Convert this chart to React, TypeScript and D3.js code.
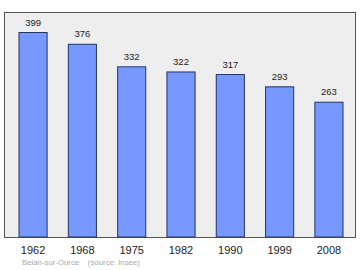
import React from "react";
import * as d3 from "d3";

const years = ["1962", "1968", "1975", "1982", "1990", "1999", "2008"];
const population = [399, 376, 332, 322, 317, 293, 263];
const sourceText = "Belan-sur-Ource    (source: Insee)";

export default function App() {
  const W = 360, H = 270;
  const frame = { x0: 4.5, y0: 12.5, x1: 355.5, y1: 237.5 };
  const x = d3.scaleBand<string>().domain(years).range([8.4, 353.6]).paddingInner(0.43).paddingOuter(0.215);
  const y = d3.scaleLinear().domain([0, 439]).range([237, 12]);
  return (
    <svg width={W} height={H} style={{ position: "absolute", left: 0, top: 0 }} fontFamily="'Liberation Sans', Arial, sans-serif">
      <rect x={0} y={0} width={W} height={H} fill="#ffffff" />
      <rect x={frame.x0} y={frame.y0} width={frame.x1 - frame.x0} height={frame.y1 - frame.y0} fill="#eeeeee" stroke="#555555" strokeWidth={1} />
      {population.map((v, i) => {
        const bx = x(years[i])!;
        return (
          <g key={years[i]}>
            <rect x={bx} y={y(v)} width={x.bandwidth()} height={237 - y(v)} fill="#7799ff" stroke="#223366" strokeWidth={1} />
            <text x={bx + x.bandwidth() / 2} y={y(v) - 7} textAnchor="middle" fontSize={9.5} fill="#222">{v}</text>
          </g>
        );
      })}
      {years.map((yr) => (
        <text key={yr} x={x(yr)! + x.bandwidth() / 2} y={254} textAnchor="middle" fontSize={11} fill="#222">{yr}</text>
      ))}
      <text x={22} y={265} fontSize={7.8} fill="#aaaaaa" style={{ whiteSpace: "pre" }}>{sourceText}</text>
    </svg>
  );
}
